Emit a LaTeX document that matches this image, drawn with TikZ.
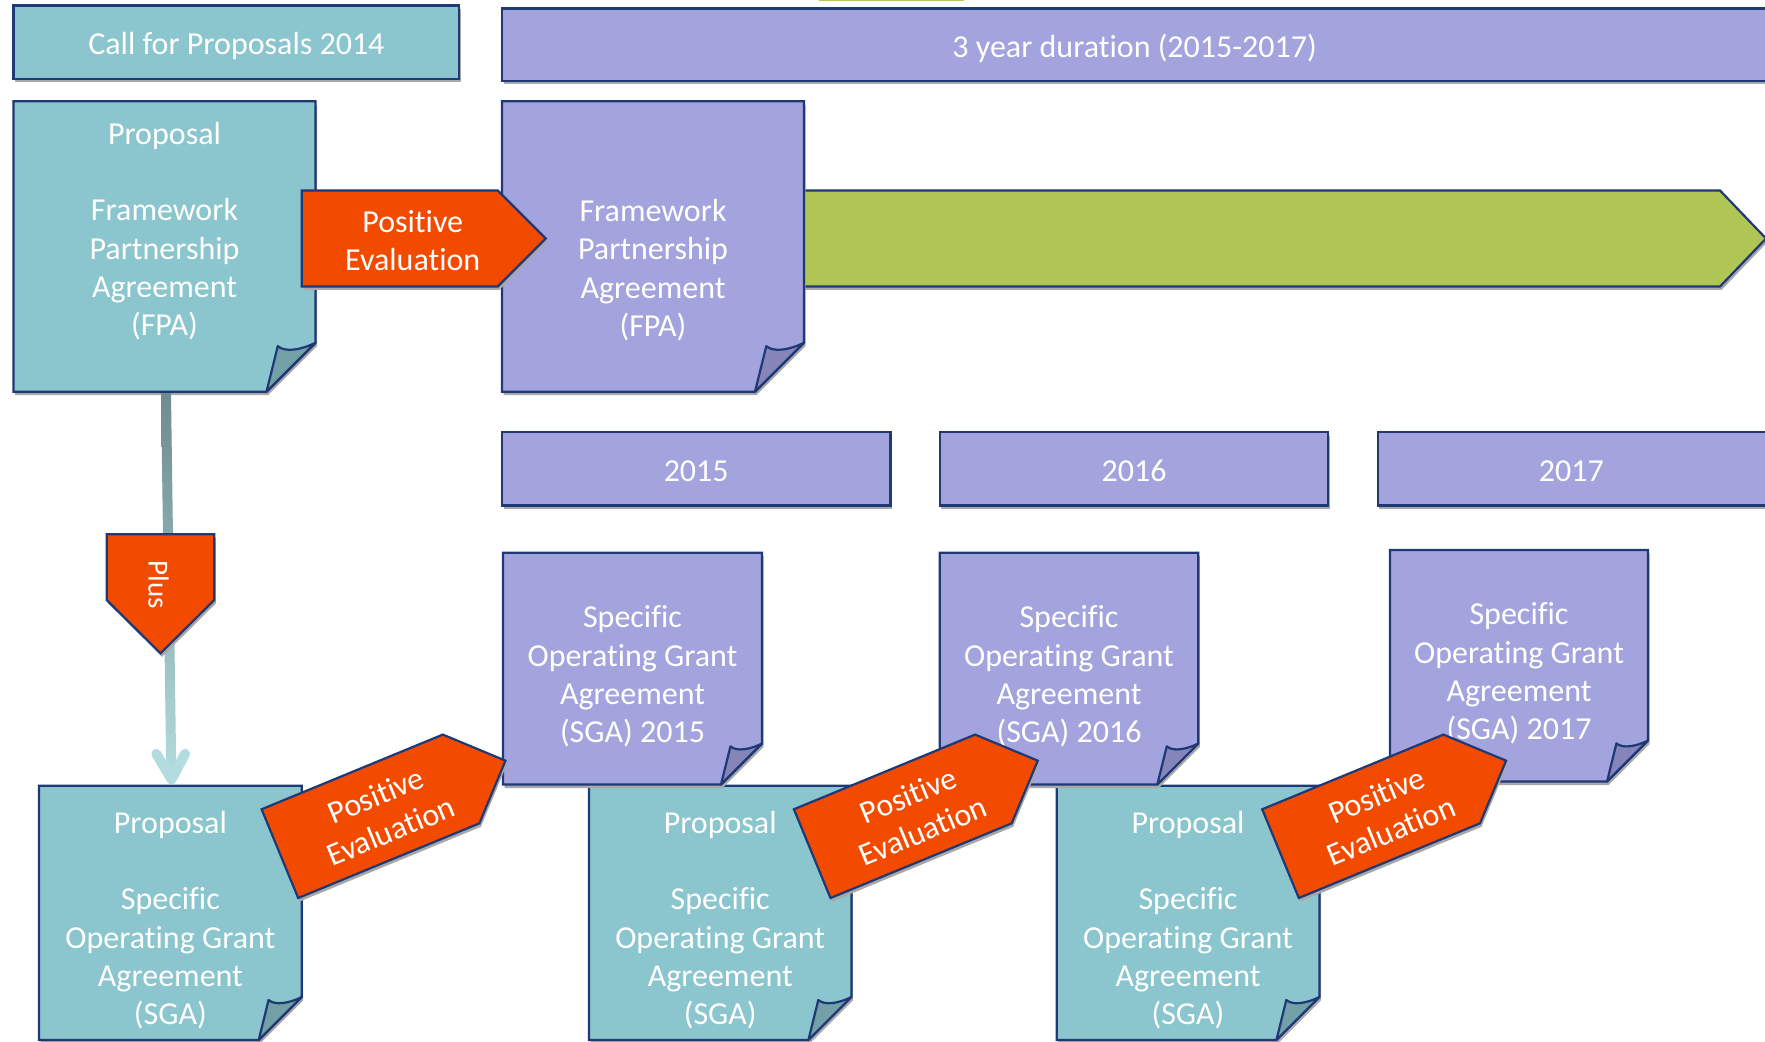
\documentclass[tikz,border=0pt]{standalone}
\usepackage{fontspec}
\setmainfont{Carlito}[RawFeature={-liga;-clig;-dlig;-rlig;-calt}]
\usetikzlibrary{calc,fit}
\definecolor{tealc}{RGB}{139,197,205}
\definecolor{purpc}{RGB}{163,163,222}
\definecolor{orangec}{RGB}{242,75,0}
\definecolor{greenc}{RGB}{175,198,85}
\definecolor{tealfold}{RGB}{114,160,166}
\definecolor{purpfold}{RGB}{133,133,186}
\definecolor{bordc}{RGB}{31,56,118}
\definecolor{shadowc}{RGB}{168,168,168}
\definecolor{shafttop}{RGB}{111,139,142}
\definecolor{shaftbot}{RGB}{178,220,223}

\tikzset{
  txt/.style={text=white, align=center, inner sep=0pt, font=\fontsize{16pt}{19.15pt}\selectfont},
  plustxt/.style={text=white, align=center, inner sep=0pt, font=\fontsize{14.5pt}{17pt}\selectfont},
  outline/.style={draw=bordc, line width=1.1pt},
}

% name, x1, y1, x2, y2, fill, fold fill, fold size
\newcommand\notedoc[8]{%
  \fill[shadowc] (#2+1.5,#3+3.5) -- (#4+1.5,#3+3.5) -- (#4+1.5,#5-#8+3.5) -- (#4-#8+1.5,#5+3.5) -- (#2+1.5,#5+3.5) -- cycle;
  \path[outline, fill=#6, line join=miter] (#2,#3) -- (#4,#3) -- (#4,#5-#8) -- (#4-#8,#5) -- (#2,#5) -- cycle;
  \path[outline, fill=#7, line join=round] (#4-#8,#5) -- (#4-0.77*#8,#5-0.93*#8) .. controls (#4-0.62*#8,#5-0.8*#8) and (#4-0.3*#8,#5-0.85*#8) .. (#4,#5-#8) -- cycle;
  \node[fit={(#2,#3) (#4,#5)}, inner sep=0pt] (#1) {};
}

% name, x1, y1, x2, y2, fill
\newcommand\bannerbox[6]{%
  \fill[shadowc] (#2+1.5,#3+3.5) rectangle (#4+1.5,#5+3.5);
  \node[fit={(#2,#3) (#4,#5)}, inner sep=0pt, outline, fill=#6] (#1) {};
}

% name, cx, cy, angle
\newcommand\evalarrow[4]{%
  \begin{scope}[shift={(#2+1.5,#3+3.5)}, rotate=#4]
    \fill[shadowc] (-98,-48) -- (98,-48) -- (146,0) -- (98,48) -- (-98,48) -- cycle;
  \end{scope}
  \begin{scope}[shift={(#2,#3)}, rotate=#4]
    \path[outline, fill=orangec] (-98,-48) -- (98,-48) -- (146,0) -- (98,48) -- (-98,48) -- cycle;
    \node[txt, rotate=#4] (#1) at (13,2) {Positive\\Evaluation};
  \end{scope}
}

\begin{document}
\begin{tikzpicture}[x=0.5pt, y=-0.5pt]
\useasboundingbox (0,0) rectangle (1765,1042);
\clip (0,0) rectangle (1765,1042);

% green sliver at the top edge
\fill[greenc] (819,-3) rectangle (964,1.2);

% top banners
\bannerbox{call}{13.5}{5.6}{459.2}{78.8}{tealc}
\node[txt] (callt) at (236.4,45.5) {Call for Proposals 2014};
\bannerbox{dur}{502}{8.5}{1768}{80.7}{purpc}
\node[txt] (durt) at (1134.6,48) {3 year duration (2015-2017)};

% green timeline arrow
\fill[shadowc] (791.5,194) -- (1721.5,194) -- (1767.5,242) -- (1721.5,290) -- (791.5,290) -- cycle;
\path[outline, fill=greenc] (790,190.5) -- (1720,190.5) -- (1766,238.5) -- (1720,286.5) -- (790,286.5);

% framework partnership documents
\notedoc{fpa1}{13.5}{101.3}{315.5}{391.7}{tealc}{tealfold}{49}
\node[txt] (fpa1t) at (164.5,231) {Proposal\\[19.15pt]Framework\\Partnership\\Agreement\\(FPA)};
\notedoc{fpa2}{502}{101.3}{804}{391.7}{purpc}{purpfold}{49}
\node[txt] (fpa2t) at (653,270) {Framework\\Partnership\\Agreement\\(FPA)};

% top positive evaluation
\evalarrow{ev0}{399.75}{238.5}{0}

% year boxes
\bannerbox{y15}{502}{432.2}{890.4}{505.4}{purpc}
\node[txt] (y15t) at (696.2,471) {2015};
\bannerbox{y16}{939.9}{432.2}{1328.2}{505.4}{purpc}
\node[txt] (y16t) at (1134,471) {2016};
\bannerbox{y17}{1377.7}{432.2}{1768}{505.4}{purpc}
\node[txt] (y17t) at (1571.3,471) {2017};

% proposal SGA documents
\notedoc{sgp1}{39}{785.7}{301.7}{1040}{tealc}{tealfold}{43}
\node[txt] (sgp1t) at (170.4,920) {Proposal\\[19.15pt]Specific\\Operating Grant\\Agreement\\(SGA)};
\notedoc{sgp2}{589}{785.7}{851.4}{1040}{tealc}{tealfold}{43}
\node[txt] (sgp2t) at (720.2,920) {Proposal\\[19.15pt]Specific\\Operating Grant\\Agreement\\(SGA)};
\notedoc{sgp3}{1056.7}{785.7}{1319.4}{1040}{tealc}{tealfold}{43}
\node[txt] (sgp3t) at (1188,920) {Proposal\\[19.15pt]Specific\\Operating Grant\\Agreement\\(SGA)};

% connector FPA -> SGA proposal with Plus
\shade[top color=shafttop, bottom color=shaftbot]
  ($(fpa1.south)+(-3.5,1)$) -- ($(fpa1.south)+(6.5,1)$) -- ($(sgp1.north)+(6,-8)$) -- ($(sgp1.north)+(-4,-8)$) -- cycle;
\draw[shaftbot, line width=5pt, line cap=round, line join=round]
  ($(sgp1.north)+(-14,-31.5)$) -- ($(sgp1.north)+(1.2,-6)$) -- ($(sgp1.north)+(14.7,-31.5)$);
\fill[shadowc] (108.2,537.8) -- (215.8,537.8) -- (215.8,603.5) -- (162,656.8) -- (108.2,603.5) -- cycle;
\path[outline, fill=orangec] (106.7,534.3) -- (214.3,534.3) -- (214.3,600) -- (160.5,653.3) -- (106.7,600) -- cycle;
\node[plustxt, rotate=-90] (plus) at (158.5,585) {Plus};

% specific operating grant agreements
\notedoc{sga15}{503}{552.7}{762}{784.5}{purpc}{purpfold}{41}
\node[txt] (sga15t) at (632.5,676.5) {Specific\\Operating Grant\\Agreement\\(SGA) 2015};
\notedoc{sga16}{939.8}{552.7}{1198.3}{784.5}{purpc}{purpfold}{41}
\node[txt] (sga16t) at (1069,676.5) {Specific\\Operating Grant\\Agreement\\(SGA) 2016};
\notedoc{sga17}{1390}{550}{1648}{781.5}{purpc}{purpfold}{41}
\node[txt] (sga17t) at (1519,673.5) {Specific\\Operating Grant\\Agreement\\(SGA) 2017};

% rotated positive evaluations
\evalarrow{ev1}{370.5}{816.3}{22.4}
\evalarrow{ev2}{902.8}{816.3}{22.4}
\evalarrow{ev3}{1371.1}{816.3}{22.4}

\end{tikzpicture}
\end{document}
